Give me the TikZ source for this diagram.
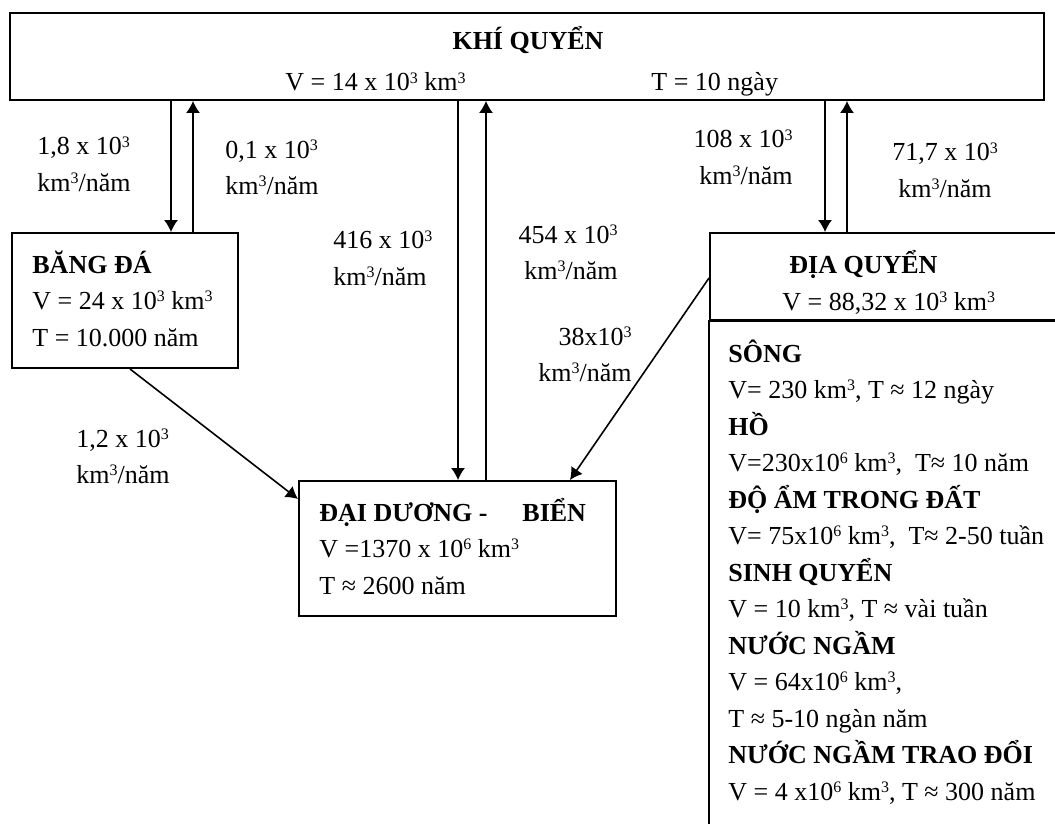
\documentclass[tikz,border=0pt]{standalone}
\usepackage{fontspec}
\setmainfont{Liberation Serif}
\usetikzlibrary{arrows.meta,fit}
\newcommand\su[1]{\raisebox{3.8pt}{\fontsize{8}{8}\selectfont #1}}
\newcommand\ltab[2]{\begin{tabular}[t]{@{}#1@{}}#2\end{tabular}}
\begin{document}
\begin{tikzpicture}[x=0.5pt,y=-0.5pt,
  box/.style={draw,line width=1pt,inner sep=0pt},
  txt/.style={inner sep=0pt,font=\fontsize{13}{18.25}\selectfont},
  arr/.style={-{Latex[length=6pt,width=7pt]},line width=0.6pt},
  darr/.style={-{Latex[length=6pt,width=7pt]},line width=0.8pt}]
\useasboundingbox (0,0) rectangle (1055,824);
\fill[white] (0,0) rectangle (1055,824);
\clip (0,0) rectangle (1055,824);

% corner points of the boxes
\coordinate (kq1) at (10,13);   \coordinate (kq2) at (1044,100);
\coordinate (bd1) at (12,233);  \coordinate (bd2) at (238,368);
\coordinate (oc1) at (299,481); \coordinate (oc2) at (616,616);
\coordinate (dq1) at (710,233); \coordinate (dq2) at (1075,320);
\coordinate (lb1) at (709,321); \coordinate (lb2) at (1075,845);

\node[box,fit=(kq1)(kq2)] (kq) {};
\node[box,fit=(bd1)(bd2)] (bd) {};
\node[box,fit=(oc1)(oc2)] (oc) {};
\node[box,fit=(dq1)(dq2)] (dq) {};
\node[box,fit=(lb1)(lb2)] (lb) {};

% box texts
\node[txt,anchor=base] (kqt) at (528,50) {\textbf{KHÍ QUYỂN}};
\node[txt,anchor=base west] (kqv) at (285,91) {V = 14 x 10\su3 km\su3};
\node[txt,anchor=base west] (kqtt) at (651,91) {T = 10 ngày};

\node[txt,anchor=base west] (bdt) at (32,273)
  {\ltab{l}{\textbf{BĂNG ĐÁ}\\V = 24 x 10\su3 km\su3\\T = 10.000 năm}};
\node[txt,anchor=base west] (oct) at (319,521)
  {\ltab{l}{\textbf{ĐẠI DƯƠNG -\hspace{17.5pt}BIỂN}\\V =1370 x 10\su6 km\su3\\T ≈ 2600 năm}};
\node[txt,anchor=base west] (dqt) at (789,273) {\textbf{ĐỊA QUYỂN}};
\node[txt,anchor=base west] (dqv) at (782,310) {V = 88,32 x 10\su3 km\su3};
\node[txt,anchor=base west] (lbt) at (728,362)
  {\ltab{l}{\textbf{SÔNG}\\
  V= 230 km\su3, T ≈ 12 ngày\\
  \textbf{HỒ}\\
  V=230x10\su6 km\su3, \ T≈ 10 năm\\
  \textbf{ĐỘ ẨM TRONG ĐẤT}\\
  V= 75x10\su6 km\su3, \ T≈ 2-50 tuần\\
  \textbf{SINH QUYỂN}\\
  V = 10 km\su3, T ≈ vài tuần\\
  \textbf{NƯỚC NGẦM}\\
  V = 64x10\su6 km\su3,\\
  T ≈ 5-10 ngàn năm\\
  \textbf{NƯỚC NGẦM TRAO ĐỔI}\\
  V = 4 x10\su6 km\su3, T ≈ 300 năm}};

% flow labels
\node[txt,anchor=base west] (l18) at (37,155) {\ltab{l}{1,8 x 10\su3\\km\su3/năm}};
\node[txt,anchor=base west] (l01) at (225,158) {\ltab{l}{0,1 x 10\su3\\km\su3/năm}};
\node[txt,anchor=base west] (l416) at (333,249) {\ltab{l}{416 x 10\su3\\km\su3/năm}};
\node[txt,anchor=base east] (l454) at (618,243) {\ltab{r}{454 x 10\su3\\km\su3/năm}};
\node[txt,anchor=base east] (l38) at (632,345) {\ltab{r}{38x10\su3\\km\su3/năm}};
\node[txt,anchor=base west] (l12) at (76,447) {\ltab{l}{1,2 x 10\su3\\km\su3/năm}};
\node[txt,anchor=base east] (l108) at (793,148) {\ltab{r}{108 x 10\su3\\km\su3/năm}};
\node[txt,anchor=base] (l717) at (945,161) {\ltab{c}{71,7 x 10\su3\\km\su3/năm}};

% connector positions
\coordinate (xa) at (171,0); \coordinate (xb) at (193,0);
\coordinate (xc) at (458,0); \coordinate (xd) at (486,0);
\coordinate (xe) at (825,0); \coordinate (xf) at (847,0);
\coordinate (d1) at (130,0); \coordinate (d2) at (0,499);
\coordinate (d3) at (0,278); \coordinate (d4) at (570,0);

\draw[arr] (kq.south -| xa) -- (bd.north -| xa);
\draw[arr] (bd.north -| xb) -- (kq.south -| xb);
\draw[arr] (kq.south -| xc) -- (oc.north -| xc);
\draw[arr] (oc.north -| xd) -- (kq.south -| xd);
\draw[arr] (kq.south -| xe) -- (dq.north -| xe);
\draw[arr] (dq.north -| xf) -- (kq.south -| xf);
\draw[darr] (bd.south -| d1) -- (oc.west |- d2);
\draw[darr] (dq.west |- d3) -- (oc.north -| d4);
\end{tikzpicture}
\end{document}
